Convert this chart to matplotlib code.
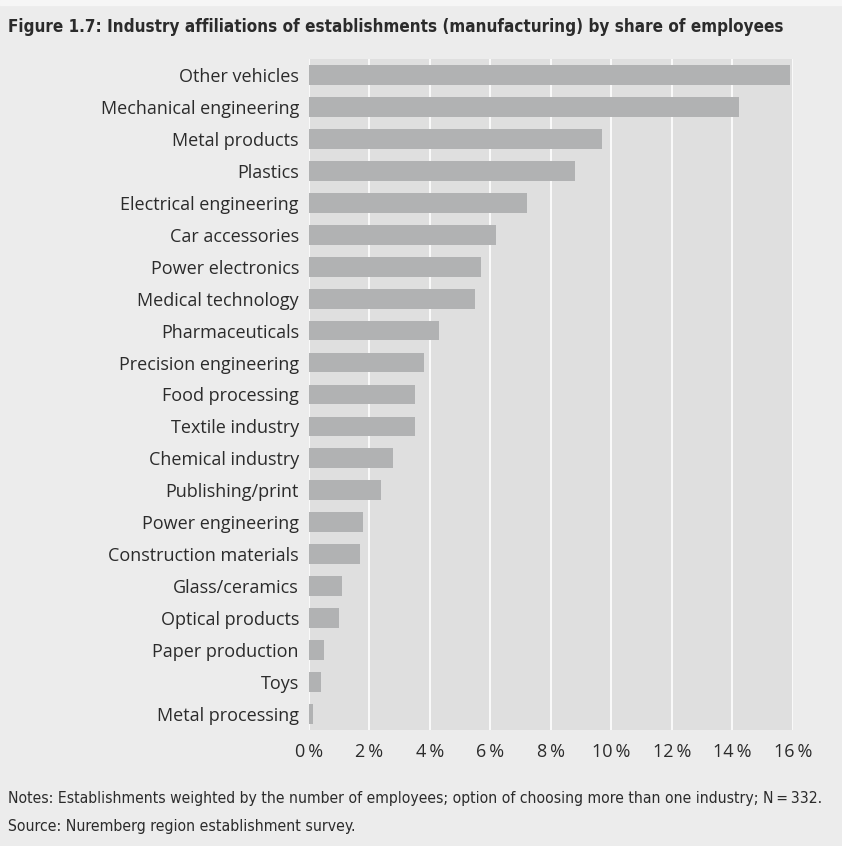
import matplotlib
matplotlib.use("Agg")
import matplotlib.pyplot as plt

# ==========================================
# 1. DATA
# ==========================================
industries = [
    "Other vehicles", "Mechanical engineering", "Metal products", "Plastics",
    "Electrical engineering", "Car accessories", "Power electronics",
    "Medical technology", "Pharmaceuticals", "Precision engineering",
    "Food processing", "Textile industry", "Chemical industry",
    "Publishing/print", "Power engineering", "Construction materials",
    "Glass/ceramics", "Optical products", "Paper production", "Toys",
    "Metal processing",
]
share_pct = [15.9, 14.2, 9.7, 8.8, 7.2, 6.2, 5.7, 5.5, 4.3, 3.8, 3.5, 3.5,
             2.8, 2.4, 1.8, 1.7, 1.1, 1.0, 0.5, 0.4, 0.15]
tick_values = [0, 2, 4, 6, 8, 10, 12, 14, 16]

title = "Figure 1.7: Industry affiliations of establishments (manufacturing) by share of employees"
notes = ("Notes: Establishments weighted by the number of employees; "
         "option of choosing more than one industry; N\u2009=\u2009332.")
source = "Source: Nuremberg region establishment survey."

# ==========================================
# 2. STYLE
# ==========================================
FIG_BG = "#ececec"
AX_BG = "#dfdfdf"
BAR = "#b1b2b3"
TEXT = "#2b2b2b"
BODY = "Open Sans"

# ==========================================
# 3. PLOT
# ==========================================
fig = plt.figure(figsize=(8.42, 8.46), dpi=100, facecolor=FIG_BG)
ax = fig.add_axes([0.3666, 0.1371, 0.5752, 0.7932], facecolor=AX_BG)

ypos = list(range(len(industries)))
ax.barh(ypos, share_pct, height=0.62, color=BAR, zorder=2)

ax.set_xlim(0, 16)
ax.set_ylim(len(industries) - 0.5, -0.5)
ax.set_yticks(ypos)
ax.set_yticklabels(industries, fontfamily=BODY, fontsize=13, color=TEXT)
ax.set_xticks(tick_values)
ax.set_xticklabels([f"{v}\u2009%" for v in tick_values], fontfamily=BODY,
                   fontsize=13, color=TEXT)
ax.tick_params(axis="both", length=0)
ax.tick_params(axis="y", pad=7)
ax.tick_params(axis="x", pad=9)

ax.grid(axis="x", color="white", linewidth=1.2, zorder=1)
ax.set_axisbelow(True)
for s in ax.spines.values():
    s.set_visible(False)

# thin light strip at the very top of the figure
fig.patches.append(plt.Rectangle((0, 0.994), 1, 0.006, transform=fig.transFigure,
                                 color="#f6f6f6", zorder=0))

# condensed texts, shrunk to the width they take in the original
renderer = fig.canvas.get_renderer()


def fitted_text(y_px, s, width_px, bold=False):
    t = fig.text(8 / 842, 1 - y_px / 846, s, fontfamily="DejaVu Sans",
                 fontstretch="condensed", fontweight="bold" if bold else "normal",
                 fontsize=13, color=TEXT, va="center", ha="left")
    w = t.get_window_extent(renderer).width
    t.set_fontsize(13 * width_px / w)
    return t


fitted_text(27, title, 775, bold=True)
fitted_text(798, notes, 812)
fitted_text(826, source, 348)

fig.savefig("out.png", dpi=100, facecolor=FIG_BG)
